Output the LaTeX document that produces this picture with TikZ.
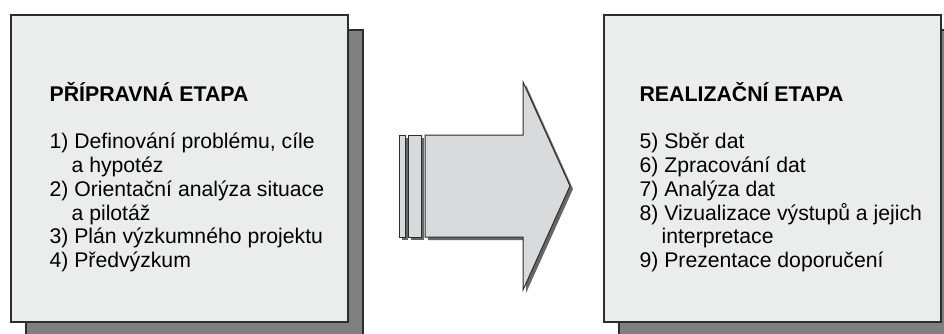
\documentclass[tikz,border=0pt]{standalone}
\usepackage{fontspec}
\setmainfont{Liberation Sans}
\usepackage{tikz}
\usetikzlibrary{positioning,shadows}
\definecolor{boxgray}{RGB}{235,236,236}
\definecolor{shadegray}{RGB}{128,128,128}
\definecolor{arrowgray}{RGB}{217,218,219}
\definecolor{edgegray}{RGB}{45,45,45}
\begin{document}
\begin{tikzpicture}[x=1pt,y=-1pt,
  phase/.style={rectangle,draw=edgegray,line width=1.2pt,fill=boxgray,
    minimum width=337pt,minimum height=307pt,inner sep=0pt,
    drop shadow={shadow xshift=15pt,shadow yshift=-15pt,fill=shadegray,
      draw=edgegray,opacity=1}},
  phasetitle/.style={font=\fontsize{21.3}{24}\selectfont\bfseries,
    anchor=north west,inner sep=0pt},
  steps/.style={font=\fontsize{21.2}{23.8}\selectfont,align=left,inner sep=0pt},
  flow/.style={draw=edgegray,line width=1pt,fill=arrowgray,
    drop shadow={shadow xshift=3pt,shadow yshift=-3pt,fill=black!60,opacity=1}},
]
\useasboundingbox (0,0) rectangle (944,334);

\node[phase] (prep) at (179.5,168.5) {};
\node[phase] (real) at (772.5,168.5) {};

% preparation stage
\node[phasetitle] (prepT) at ([shift={(39,68)}]prep.north west) {PŘÍPRAVNÁ ETAPA};
\node[steps,below=31pt of prepT.south west,anchor=north west] (prepL) {%
  1) Definování problému, cíle\\
  \hspace*{22pt}a hypotéz\\
  2) Orientační analýza situace\\
  \hspace*{22pt}a pilotáž\\
  3) Plán výzkumného projektu\\
  4) Předvýzkum};

% realisation stage
\node[phasetitle] (realT) at ([shift={(36,68)}]real.north west) {REALIZAČNÍ ETAPA};
\node[steps,below=31pt of realT.south west,anchor=north west] (realL) {%
  5) Sběr dat\\
  6) Zpracování dat\\
  7) Analýza dat\\
  8) Vizualizace výstupů a jejich\\
  \hspace*{22pt}interpretace\\
  9) Prezentace doporučení};

% arrow between the stages
\draw[flow] (399,135) rectangle (405,237);
\draw[flow] (408,135) rectangle (421,237);
\draw[flow] (425,135) -- (523,135) -- (523,82) -- (570,186)
  -- (523,290) -- (523,237) -- (425,237) -- cycle;
\end{tikzpicture}
\end{document}
